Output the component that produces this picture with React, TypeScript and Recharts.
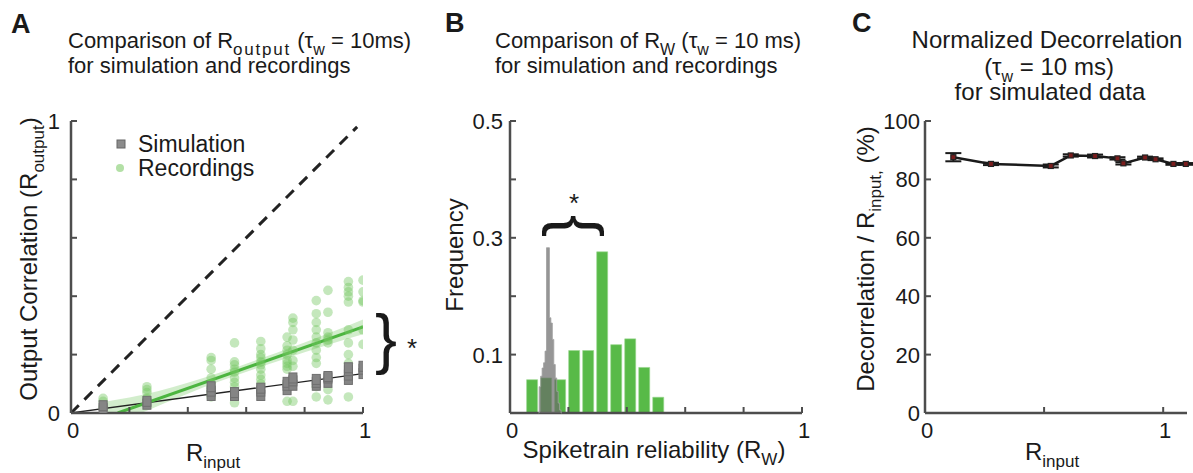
import React from "react";
import { ComposedChart, Scatter, Line, Area, Bar, XAxis, YAxis, ErrorBar } from "recharts";

const W = 1193;
const H = 473;
const FONT = "'Liberation Sans', Arial, sans-serif";
const AXIS = "#4d4d4d";

// ---- Panel A: R_output vs R_input ----
const colX = [0.11, 0.26, 0.48, 0.56, 0.65, 0.74, 0.76, 0.84, 0.88, 0.95, 1.0];
const recY = [
  [0.02, 0.04, 0.05],
  [0.05, 0.07, 0.08, 0.09],
  [0.055, 0.07, 0.085, 0.1, 0.12, 0.15, 0.18, 0.19],
  [0.035, 0.09, 0.105, 0.12, 0.14, 0.15, 0.165, 0.175, 0.24],
  [0.1, 0.115, 0.13, 0.15, 0.165, 0.175, 0.19, 0.2, 0.22, 0.245],
  [0.04, 0.1, 0.15, 0.16, 0.17, 0.18, 0.2, 0.215, 0.23, 0.26],
  [0.04, 0.16, 0.18, 0.215, 0.25, 0.285, 0.31, 0.325],
  [0.055, 0.09, 0.17, 0.19, 0.215, 0.24, 0.26, 0.285, 0.31, 0.34, 0.385],
  [0.045, 0.08, 0.24, 0.25, 0.26, 0.275, 0.345, 0.42],
  [0.055, 0.17, 0.2, 0.24, 0.285, 0.38, 0.4, 0.415, 0.43, 0.45],
  [0.235, 0.285, 0.38, 0.385, 0.415, 0.455],
];
const simY = [
  [0.015, 0.025],
  [0.03, 0.04],
  [0.06, 0.075, 0.09],
  [0.06, 0.07],
  [0.06, 0.075, 0.085],
  [0.08, 0.095, 0.105],
  [0.095, 0.11, 0.12],
  [0.095, 0.105, 0.115],
  [0.105, 0.12, 0.125],
  [0.115, 0.13, 0.145, 0.155],
  [0.135, 0.15, 0.16],
];
const identityX = [0, 0.98];
const simFitX = [0, 1];
const simFitY = [0, 0.135];
const recFitX = [0.16, 1];
const recFitY = [0, 0.295];
const bandX = [0.1, 0.3, 0.5, 0.7, 0.9, 1.0];
const bandLo = [-0.06, 0.025, 0.105, 0.175, 0.24, 0.27];
const bandHi = [0.035, 0.075, 0.135, 0.205, 0.28, 0.32];

// ---- Panel B: histograms of R_W ----
const recBinX = [0.074, 0.122, 0.17, 0.218, 0.266, 0.314, 0.362, 0.41, 0.458, 0.506];
const recFreq = [0.057, 0.06, 0.057, 0.107, 0.107, 0.276, 0.117, 0.127, 0.078, 0.027];
const simBinX = [0.0975, 0.1025, 0.1075, 0.1125, 0.1175, 0.1225, 0.1275, 0.1325, 0.1375, 0.1425, 0.1475, 0.1525, 0.1575, 0.1625, 0.1675, 0.1725, 0.1775];
const simFreq = [0, 0.045, 0.063, 0.077, 0.086, 0.106, 0.283, 0.283, 0.163, 0.154, 0.126, 0.083, 0.06, 0.037, 0.017, 0.005, 0];

// ---- Panel C: normalized decorrelation ----
const decX = [0.119, 0.277, 0.528, 0.612, 0.714, 0.808, 0.833, 0.924, 0.968, 1.043, 1.095];
const decY = [87.6, 85.3, 84.6, 88.2, 88.0, 87.2, 85.5, 87.5, 86.9, 85.3, 85.3];
const decErr = [1.4, 0.4, 0.5, 0.4, 0.5, 0.4, 0.4, 0.3, 0.3, 0.3, 0.3];

const recPoints = colX.flatMap((x, i) => recY[i].map((y) => ({ x, y })));
const simPoints = colX.flatMap((x, i) => simY[i].map((y) => ({ x, y })));
const identityData = identityX.map((x) => ({ x, y: x }));
const simFitData = simFitX.map((x, i) => ({ x, y: simFitY[i] }));
const recFitData = recFitX.map((x, i) => ({ x, y: recFitY[i] }));
const bandData = bandX.map((x, i) => ({ x, band: [bandLo[i], bandHi[i]] }));
const recHist = recBinX.map((x, i) => ({ x, y: recFreq[i] }));
const simHist = simBinX.map((x, i) => ({ x, y: simFreq[i] }));
const decData = decX.map((x, i) => ({ x, y: decY[i], err: decErr[i] }));

const txt = { fontFamily: FONT, fill: "#1a1a1a" };

// inward tick marks, labels only where listed
const yTick = (labels: string[], gap: number) => (p: any) => {
  const v = String(p.payload.value);
  return (
    <g>
      <line x1={p.x} x2={p.x + 6} y1={p.y} y2={p.y} stroke={AXIS} strokeWidth={2} />
      {labels.includes(v) && (
        <text x={p.x - gap} y={p.y} dy="0.36em" textAnchor="end" fontSize={22} {...txt}>
          {v}
        </text>
      )}
    </g>
  );
};
const xTick = (labels: string[]) => (p: any) => {
  const v = String(p.payload.value);
  return (
    <g>
      <line x1={p.x} x2={p.x} y1={p.y} y2={p.y - 6} stroke={AXIS} strokeWidth={2} />
      {labels.includes(v) && (
        <text x={p.x + 2} y={p.y + 25} textAnchor="middle" fontSize={22} {...txt}>
          {v}
        </text>
      )}
    </g>
  );
};

const axisLine = { stroke: AXIS, strokeWidth: 2.5 };
const layer: React.CSSProperties = { position: "absolute", left: 0, top: 0 };

// axes are 1px wide/high, so margins leave one pixel for them
function margins(left: number, right: number) {
  return { top: 121, bottom: H - 413 - 1, left: left - 1, right: W - right };
}

export default function App() {
  return (
    <div style={{ position: "absolute", left: 0, top: 0, width: W, height: H, background: "#fff" }}>
      {/* Panel A */}
      <div style={layer}>
        <ComposedChart width={W} height={H} margin={margins(71, 363)}>
          <XAxis type="number" dataKey="x" domain={[0, 1]} ticks={[0, 0.2, 0.4, 0.6, 0.8, 1]} interval={0}
            height={1} tickSize={0} tickMargin={0} tickLine={false} tick={xTick(["0", "1"])} axisLine={axisLine} allowDataOverflow />
          <YAxis type="number" dataKey="y" domain={[0, 1]} ticks={[0, 0.2, 0.4, 0.6, 0.8, 1]} interval={0}
            width={1} tickSize={0} tickMargin={0} tickLine={false} tick={yTick(["0", "1"], 11)} axisLine={axisLine} allowDataOverflow />
          <Area data={bandData} dataKey="band" type="monotone" fill="#7fca6e" fillOpacity={0.35} stroke="none" isAnimationActive={false} />
          <Line data={identityData} dataKey="y" stroke="#222" strokeWidth={3} strokeDasharray="11 8" dot={false} isAnimationActive={false} />
          <Line data={simFitData} dataKey="y" stroke="#222" strokeWidth={1.3} dot={false} isAnimationActive={false} />
          <Line data={recFitData} dataKey="y" stroke="#4cb540" strokeWidth={3} dot={false} isAnimationActive={false} />
          <Scatter data={recPoints} dataKey="y" isAnimationActive={false}
            shape={(p: any) => <circle cx={p.cx} cy={p.cy} r={4.8} fill="#72c660" fillOpacity={0.42} />} />
          <Scatter data={simPoints} dataKey="y" isAnimationActive={false}
            shape={(p: any) => <rect x={p.cx - 4} y={p.cy - 5} width={8} height={10} fill="#858585" stroke="#6f6f6f" strokeWidth={1} />} />
        </ComposedChart>
      </div>

      {/* Panel B: recordings */}
      <div style={layer}>
        <ComposedChart width={W} height={H} data={recHist} margin={margins(510, 802)}>
          <XAxis type="number" dataKey="x" domain={[0, 1]} ticks={[0, 0.2, 0.4, 0.6, 0.8, 1]} interval={0}
            height={1} tickSize={0} tickMargin={0} tickLine={false} tick={xTick(["0", "1"])} axisLine={axisLine} />
          <YAxis type="number" domain={[0, 0.5]} ticks={[0, 0.1, 0.2, 0.3, 0.4, 0.5]} interval={0}
            width={1} tickSize={0} tickMargin={0} tickLine={false} tick={yTick(["0.1", "0.3", "0.5"], 7)} axisLine={axisLine} />
          <Bar dataKey="y" barSize={11} fill="#58ba48" stroke="#9ad68e" strokeWidth={0.6} isAnimationActive={false} />
        </ComposedChart>
      </div>
      {/* Panel B: simulation histogram overlay */}
      <div style={layer}>
        <ComposedChart width={W} height={H} data={simHist} margin={margins(510, 802)}>
          <XAxis type="number" dataKey="x" domain={[0, 1]} height={1} tick={false} tickLine={false} axisLine={false} />
          <YAxis type="number" domain={[0, 0.5]} width={1} tick={false} tickLine={false} axisLine={false} />
          <Area dataKey="y" type="step" fill="#6a6a6a" fillOpacity={0.7} stroke="#a0a0a0" strokeWidth={0.8} isAnimationActive={false} />
        </ComposedChart>
      </div>

      {/* Panel C */}
      <div style={layer}>
        <ComposedChart width={W} height={H} margin={margins(925, 1187)}>
          <XAxis type="number" dataKey="x" domain={[0, 1.1]} ticks={[0, 0.5, 1]} interval={0}
            height={1} tickSize={0} tickMargin={0} tickLine={false} tick={xTick(["0", "1"])} axisLine={axisLine} />
          <YAxis type="number" dataKey="y" domain={[0, 100]} ticks={[0, 20, 40, 60, 80, 100]} interval={0}
            width={1} tickSize={0} tickMargin={0} tickLine={false} tick={yTick(["0", "20", "40", "60", "80", "100"], 5)} axisLine={axisLine} />
          <Line data={decData} dataKey="y" stroke="#1a1a1a" strokeWidth={2.5} isAnimationActive={false}
            dot={(p: any) => <rect key={p.index} x={p.cx - 2.5} y={p.cy - 2.5} width={5} height={5} fill="#7a1c1c" stroke="#222" strokeWidth={1.2} />}>
            <ErrorBar dataKey="err" direction="y" width={8} stroke="#1a1a1a" strokeWidth={2} />
          </Line>
        </ComposedChart>
      </div>

      {/* Text layer */}
      <svg width={W} height={H} style={{ ...layer, pointerEvents: "none" }}>
        <g {...txt}>
          <text x={11} y={33} fontSize={27} fontWeight="bold">A</text>
          <text x={445} y={32} fontSize={27} fontWeight="bold">B</text>
          <text x={852} y={32} fontSize={27} fontWeight="bold">C</text>

          <text x={68} y={48} fontSize={22}>
            <tspan>Comparison of R</tspan>
            <tspan fontSize={17} dy={7} letterSpacing={1.8}>output</tspan>
            <tspan dy={-7}> (τ</tspan>
            <tspan fontSize={16} dy={7}>w</tspan>
            <tspan dy={-7}> = 10ms)</tspan>
          </text>
          <text x={68} y={73} fontSize={22}>for simulation and recordings</text>

          <text x={495} y={48} fontSize={22}>
            <tspan>Comparison of R</tspan>
            <tspan fontSize={16} dy={7}>W</tspan>
            <tspan dy={-7}> (τ</tspan>
            <tspan fontSize={16} dy={7}>w</tspan>
            <tspan dy={-7}> = 10 ms)</tspan>
          </text>
          <text x={495} y={73} fontSize={22}>for simulation and recordings</text>

          <text x={1047} y={48} fontSize={24} textAnchor="middle">Normalized Decorrelation</text>
          <text x={1049} y={75} fontSize={24} textAnchor="middle">
            <tspan>(τ</tspan>
            <tspan fontSize={16} dy={7}>w</tspan>
            <tspan dy={-7}> = 10 ms)</tspan>
          </text>
          <text x={1050} y={100} fontSize={24} textAnchor="middle">for simulated data</text>

          {/* legend A */}
          <rect x={117} y={140} width={8} height={8} fill="#8c8c8c" stroke="#666" strokeWidth={1} />
          <text x={138} y={152} fontSize={23}>Simulation</text>
          <circle cx={120} cy={168} r={4} fill="#b3e0a6" />
          <text x={138} y={176} fontSize={23}>Recordings</text>

          {/* axis labels */}
          <text transform="translate(37,259) rotate(-90)" textAnchor="middle" fontSize={24}>
            <tspan>Output Correlation (R</tspan>
            <tspan fontSize={17} dy={7}>output</tspan>
            <tspan dy={-7}>)</tspan>
          </text>
          <text x={213} y={461} textAnchor="middle" fontSize={24}>
            <tspan>R</tspan>
            <tspan fontSize={17} dy={7}>input</tspan>
          </text>
          <text transform="translate(463,255) rotate(-90)" textAnchor="middle" fontSize={24}>Frequency</text>
          <text x={654} y={458} textAnchor="middle" fontSize={24}>
            <tspan>Spiketrain reliability (R</tspan>
            <tspan fontSize={17} dy={7}>W</tspan>
            <tspan dy={-7}>)</tspan>
          </text>
          <text transform="translate(874,259) rotate(-90)" textAnchor="middle" fontSize={24}>
            <tspan>Decorrelation / R</tspan>
            <tspan fontSize={17} dy={7}>input,</tspan>
            <tspan dy={-7}> (%)</tspan>
          </text>
          <text x={1052} y={460} textAnchor="middle" fontSize={24}>
            <tspan>R</tspan>
            <tspan fontSize={17} dy={7}>input</tspan>
          </text>

          {/* significance braces */}
          <text x={375} y={361} fontSize={66}>{"}"}</text>
          <text x={412} y={357} fontSize={26} textAnchor="middle">*</text>
          <g transform="translate(573,226) rotate(90)">
            <text x={0} y={17} fontSize={66} textAnchor="middle">{"{"}</text>
          </g>
          <text x={574} y={212} fontSize={26} textAnchor="middle">*</text>
        </g>
      </svg>
    </div>
  );
}
